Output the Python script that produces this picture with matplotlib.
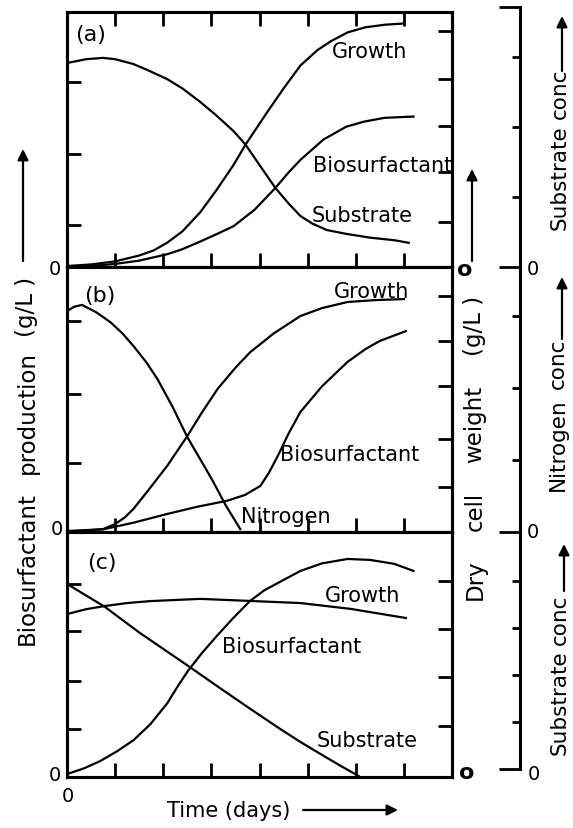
import matplotlib.pyplot as plt
import numpy as np

plt.rcParams['font.family'] = ['DejaVu Sans']

# ---- data (time in days-units, y as fraction of panel height) ----
# panel (a)
a_sub_x = [0, 0.4, 0.75, 1.0, 1.38, 1.7, 2.08, 2.4, 2.77, 3.1, 3.46, 3.71, 4.0, 4.33, 4.6, 4.85, 5.1, 5.4, 5.8, 6.3, 6.8, 7.1]
a_sub_y = [0.80, 0.815, 0.82, 0.815, 0.796, 0.77, 0.737, 0.70, 0.647, 0.595, 0.533, 0.48, 0.40, 0.31, 0.25, 0.20, 0.17, 0.145, 0.13, 0.115, 0.105, 0.095]
a_gro_x = [0, 0.5, 1.0, 1.5, 1.8, 2.08, 2.4, 2.77, 3.1, 3.46, 3.71, 4.17, 4.5, 4.85, 5.2, 5.48, 5.83, 6.2, 6.6, 7.0]
a_gro_y = [0.004, 0.01, 0.022, 0.045, 0.065, 0.095, 0.14, 0.215, 0.30, 0.40, 0.48, 0.61, 0.70, 0.79, 0.85, 0.885, 0.92, 0.94, 0.95, 0.955]
a_bio_x = [0, 0.5, 1.0, 1.5, 2.08, 2.4, 2.77, 3.1, 3.46, 3.9, 4.33, 4.6, 4.85, 5.33, 5.8, 6.17, 6.6, 7.2]
a_bio_y = [0.0, 0.004, 0.012, 0.025, 0.05, 0.07, 0.10, 0.128, 0.16, 0.225, 0.31, 0.37, 0.42, 0.50, 0.55, 0.57, 0.585, 0.59]

# panel (b)
b_nit_x = [0, 0.15, 0.31, 0.6, 0.9, 1.15, 1.38, 1.65, 1.88, 2.2, 2.5, 2.8, 3.04, 3.3, 3.6]
b_nit_y = [0.834, 0.85, 0.857, 0.83, 0.792, 0.75, 0.702, 0.64, 0.577, 0.47, 0.358, 0.265, 0.189, 0.10, 0.011]
b_gro_x = [0, 0.75, 1.0, 1.2, 1.38, 1.7, 2.08, 2.5, 2.8, 3.13, 3.5, 3.81, 4.3, 4.85, 5.3, 5.83, 6.4, 7.0]
b_gro_y = [0.0, 0.011, 0.03, 0.055, 0.087, 0.16, 0.249, 0.362, 0.45, 0.54, 0.62, 0.679, 0.75, 0.815, 0.845, 0.868, 0.875, 0.879]
b_bio_x = [0, 0.75, 1.38, 2.08, 2.7, 3.33, 3.7, 4.02, 4.2, 4.38, 4.6, 4.85, 5.3, 5.83, 6.2, 6.5, 7.04]
b_bio_y = [0.004, 0.01, 0.035, 0.068, 0.095, 0.118, 0.14, 0.174, 0.225, 0.287, 0.37, 0.453, 0.55, 0.642, 0.69, 0.721, 0.758]

# panel (c)
c_sub_x = [0, 0.79, 1.5, 2.52, 3.2, 3.81, 4.4, 4.85, 5.3, 5.69, 6.06]
c_sub_y = [0.788, 0.694, 0.59, 0.453, 0.36, 0.278, 0.20, 0.143, 0.09, 0.045, 0.004]
c_gro_x = [0, 0.4, 0.79, 1.25, 1.73, 2.77, 3.88, 4.85, 5.9, 7.04]
c_gro_y = [0.665, 0.685, 0.698, 0.71, 0.718, 0.727, 0.718, 0.71, 0.686, 0.649]
c_bio_x = [0, 0.35, 0.69, 1.04, 1.38, 1.73, 2.08, 2.3, 2.52, 2.8, 3.11, 3.45, 3.8, 4.1, 4.44, 4.85, 5.3, 5.83, 6.3, 6.8, 7.2]
c_bio_y = [0.012, 0.035, 0.065, 0.105, 0.15, 0.215, 0.30, 0.37, 0.435, 0.505, 0.575, 0.648, 0.718, 0.762, 0.798, 0.841, 0.872, 0.89, 0.886, 0.87, 0.841]

time_ticks = [1, 2, 3, 4, 5, 6, 7]
left_ticks = {'a': [0.165, 0.443, 0.725],
              'b': [0.26, 0.521, 0.796],
              'c': [0.196, 0.392, 0.596, 0.788]}
right_ticks = {'a': [0.176, 0.373, 0.553, 0.737, 0.925],
               'b': [0.17, 0.351, 0.551, 0.721, 0.891],
               'c': [0.208, 0.408, 0.604, 0.80]}
conc_ticks = {'a': [1, 2, 3], 'b': [1, 2, 3], 'c': [1, 2, 3, 4]}
conc_top = {'a': 3.71, 'b': 3.68, 'c': 5.04}

W, H = 573, 829
fig = plt.figure(figsize=(W / 100, H / 100), dpi=100)


def box(left, top, w, h):
    return [left / W, 1 - (top + h) / H, w / W, h / H]


def txt(px, py, s, **kw):
    kw.setdefault('ha', 'center')
    kw.setdefault('va', 'center')
    kw.setdefault('fontsize', 15)
    fig.text(px / W, 1 - py / H, s, **kw)


def arrow(x0, y0, x1, y1):
    ax0.annotate('', xy=(x1 / W, 1 - y1 / H), xytext=(x0 / W, 1 - y0 / H),
                 xycoords='figure fraction', textcoords='figure fraction',
                 annotation_clip=False,
                 arrowprops=dict(arrowstyle='-|>', color='k', lw=1.6,
                                 mutation_scale=16, shrinkA=0, shrinkB=0))


panels = [
    ('a', 13, 255, [(a_sub_x, a_sub_y), (a_gro_x, a_gro_y), (a_bio_x, a_bio_y)]),
    ('b', 268, 265, [(b_nit_x, b_nit_y), (b_gro_x, b_gro_y), (b_bio_x, b_bio_y)]),
    ('c', 533, 245, [(c_sub_x, c_sub_y), (c_gro_x, c_gro_y), (c_bio_x, c_bio_y)]),
]
conc_span = {'a': (8, 260), 'b': (268, 265), 'c': (533, 237)}

axes = []
for key, top, h, curves in panels:
    ax = fig.add_axes(box(67, top, 385, h))
    for xs, ys in curves:
        ax.plot(xs, ys, color='k', lw=1.6, solid_joinstyle='round')
    ax.set_xlim(0, 8)
    ax.set_ylim(0, 1)
    ax.set_xticks(time_ticks)
    ax.set_yticks(left_ticks[key])
    ax.tick_params(direction='in', length=10, width=2, labelbottom=False,
                   labelleft=False, top=(key == 'a'))
    for s in ax.spines.values():
        s.set_linewidth(2.2)
    tw = ax.twinx()
    tw.set_ylim(0, 1)
    tw.set_yticks(right_ticks[key])
    tw.tick_params(direction='in', length=10, width=2, labelright=False)
    for s in tw.spines.values():
        s.set_linewidth(2.2)
    # far-right concentration scale
    ctop, ch = conc_span[key]
    cx = fig.add_axes(box(520, ctop, 10, ch))
    cx.set_ylim(0, conc_top[key])
    cx.set_xticks([])
    cx.set_yticks([0] + ([conc_top[key]] if key == 'a' else []))
    cx.set_yticks(conc_ticks[key], minor=True)
    cx.tick_params(which='major', direction='out', length=15, width=2, labelleft=False)
    cx.tick_params(which='minor', direction='out', length=6, width=2)
    for name, s in cx.spines.items():
        s.set_visible(name == 'left')
        s.set_linewidth(2.2)
    cx.patch.set_visible(False)
    axes.append(ax)

ax0 = axes[0]

# panel letters
txt(91, 35, '(a)', fontsize=16)
txt(100, 296, '(b)', fontsize=16)
txt(102, 563, '(c)', fontsize=16)

# curve labels
txt(370, 52, 'Growth')
txt(383, 166, 'Biosurfactant')
txt(362, 216, 'Substrate')
txt(372, 292, 'Growth')
txt(350, 455, 'Biosurfactant')
txt(286, 517, 'Nitrogen')
txt(363, 596, 'Growth')
txt(292, 647, 'Biosurfactant')
txt(367, 741, 'Substrate')

# zero labels
for px, py in [(55, 270), (57, 530), (55, 776), (68, 797)]:
    txt(px, py, '0', fontsize=14)
for px, py in [(465, 270), (467, 773)]:
    txt(px, py, 'o', fontsize=16, fontweight='bold')
for px, py in [(533, 270), (533, 533), (534, 775)]:
    txt(px, py, '0', fontsize=14)

# left axis label + arrow
txt(27, 569, 'Biosurfactant', rotation=90, fontsize=16.5)
txt(27, 413, 'production', rotation=90, fontsize=16.5)
txt(27, 307, '(g/L )', rotation=90, fontsize=16.5)
arrow(23, 262, 23, 150)

# middle label + arrow
txt(475, 580, 'Dry', rotation=90, fontsize=16.5)
txt(475, 511, 'cell', rotation=90, fontsize=16.5)
txt(475, 424, 'weight', rotation=90, fontsize=16.5)
txt(475, 326, '(g/L )', rotation=90, fontsize=16.5)
arrow(472, 262, 472, 170)

# far right labels
txt(560, 178, 'Substrate', rotation=90, fontsize=15.5)
txt(560, 94, 'conc', rotation=90, fontsize=15.5)
arrow(562, 72, 562, 17)
txt(558, 445, 'Nitrogen', rotation=90, fontsize=15.5)
txt(558, 364, 'conc', rotation=90, fontsize=15.5)
arrow(562, 340, 562, 278)
txt(560, 703, 'Substrate', rotation=90, fontsize=15.5)
txt(560, 620, 'conc', rotation=90, fontsize=15.5)
arrow(564, 592, 564, 545)

# time label
txt(229, 811, 'Time (days)')
arrow(303, 811, 398, 811)

fig.savefig('out.png', dpi=100)
